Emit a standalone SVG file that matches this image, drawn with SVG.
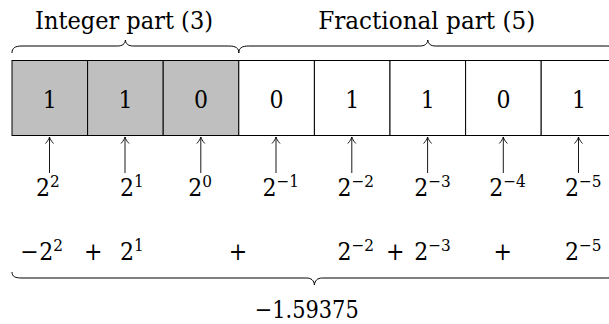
<svg xmlns="http://www.w3.org/2000/svg" width="609" height="324" viewBox="0 0 609 324">
<style>
  text { font-family: "DejaVu Serif", serif; font-stretch: condensed; fill: #000; }
  .big { font-size: 24.5px; }
  .sup { font-size: 17px; }
  .cell { stroke: #000; stroke-width: 1; }
  .int { fill: #bfbfbf; }
  .frac { fill: #fff; }
  .brace { fill: none; stroke: #000; stroke-width: 1; }
  .arr { stroke: #000; stroke-width: 0.9; marker-end: url(#tip); }
</style>
<defs>
  <marker id="tip" markerUnits="userSpaceOnUse" markerWidth="12" markerHeight="12" viewBox="-8 -6 10 12" refX="0" refY="0" orient="auto" overflow="visible">
    <path d="M-6.5,-4 C-4,-1.6 -1.6,-0.5 0,0 C-1.6,0.5 -4,1.6 -6.5,4" fill="none" stroke="#000" stroke-width="0.9"/>
  </marker>
</defs>
<rect width="609" height="324" fill="#fff"/>

<g id="labels-top">
  <text class="big" x="124" y="29" text-anchor="middle" textLength="178" lengthAdjust="spacingAndGlyphs">Integer part (3)</text>
  <text class="big" x="426.7" y="29" text-anchor="middle" textLength="217" lengthAdjust="spacingAndGlyphs">Fractional part (5)</text>
</g>

<g id="braces">
  <path class="brace" d="M12,53 C12,48 15,46 22,46 L117.4,46 C122.4,46 125,44 125.4,40 C125.8,44 128.4,46 133.4,46 L228.8,46 C235.8,46 238.8,48 238.8,53"/>
  <path class="brace" d="M238.8,53 C238.8,48 241.8,46 248.8,46 L419.8,46 C424.8,46 427.4,44 427.8,40 C428.2,44 430.8,46 435.8,46 L606.8,46 C613.8,46 616.8,48 616.8,53"/>
  <path class="brace" d="M12,272 C12,276.5 15,278 22,278 L306.4,278 C311.4,278 314,280.5 314.4,285 C314.8,280.5 317.4,278 322.4,278 L606.8,278 C613.8,278 616.8,276.5 616.8,272"/>
</g>

<g id="cell1"><rect class="cell int" x="12" y="60.5" width="75.6" height="75"/><text class="big" x="49.8" y="108" text-anchor="middle">1</text></g>
<g id="cell2"><rect class="cell int" x="87.6" y="60.5" width="75.6" height="75"/><text class="big" x="125.4" y="108" text-anchor="middle">1</text></g>
<g id="cell3"><rect class="cell int" x="163.2" y="60.5" width="75.6" height="75"/><text class="big" x="201" y="108" text-anchor="middle">0</text></g>
<g id="cell4"><rect class="cell frac" x="238.8" y="60.5" width="75.6" height="75"/><text class="big" x="276.6" y="108" text-anchor="middle">0</text></g>
<g id="cell5"><rect class="cell frac" x="314.4" y="60.5" width="75.6" height="75"/><text class="big" x="352.2" y="108" text-anchor="middle">1</text></g>
<g id="cell6"><rect class="cell frac" x="390" y="60.5" width="75.6" height="75"/><text class="big" x="427.8" y="108" text-anchor="middle">1</text></g>
<g id="cell7"><rect class="cell frac" x="465.6" y="60.5" width="75.6" height="75"/><text class="big" x="503.4" y="108" text-anchor="middle">0</text></g>
<g id="cell8"><rect class="cell frac" x="541.2" y="60.5" width="75.6" height="75"/><text class="big" x="579" y="108" text-anchor="middle">1</text></g>

<g id="connectors">
  <line class="arr" x1="49.5" y1="173" x2="49.5" y2="137"/>
  <line class="arr" x1="125" y1="173" x2="125" y2="137"/>
  <line class="arr" x1="200.8" y1="173" x2="200.8" y2="137"/>
  <line class="arr" x1="276" y1="173" x2="276" y2="137"/>
  <line class="arr" x1="351.8" y1="173" x2="351.8" y2="137"/>
  <line class="arr" x1="427.6" y1="173" x2="427.6" y2="137"/>
  <line class="arr" x1="503.3" y1="173" x2="503.3" y2="137"/>
  <line class="arr" x1="578.5" y1="173" x2="578.5" y2="137"/>
</g>

<g id="weights">
  <text class="big" x="36" y="195.5">2<tspan class="sup" dy="-9">2</tspan></text>
  <text class="big" x="120" y="195.5">2<tspan class="sup" dy="-9">1</tspan></text>
  <text class="big" x="188.3" y="195.5">2<tspan class="sup" dy="-9">0</tspan></text>
  <text class="big" x="262.5" y="195.5">2<tspan class="sup" dy="-9">−1</tspan></text>
  <text class="big" x="337.5" y="195.5">2<tspan class="sup" dy="-9">−2</tspan></text>
  <text class="big" x="414.2" y="195.5">2<tspan class="sup" dy="-9">−3</tspan></text>
  <text class="big" x="489.2" y="195.5">2<tspan class="sup" dy="-9">−4</tspan></text>
  <text class="big" x="565" y="195.5">2<tspan class="sup" dy="-9">−5</tspan></text>
</g>

<g id="sum">
  <text class="big" x="29.5" y="260" text-anchor="middle">−</text>
  <text class="big" x="39.2" y="260">2<tspan class="sup" dy="-9">2</tspan></text>
  <text class="big" x="93.3" y="260" text-anchor="middle">+</text>
  <text class="big" x="120" y="260">2<tspan class="sup" dy="-9">1</tspan></text>
  <text class="big" x="238" y="260" text-anchor="middle">+</text>
  <text class="big" x="337.5" y="260">2<tspan class="sup" dy="-9">−2</tspan></text>
  <text class="big" x="395.3" y="260" text-anchor="middle">+</text>
  <text class="big" x="414.2" y="260">2<tspan class="sup" dy="-9">−3</tspan></text>
  <text class="big" x="502.8" y="260" text-anchor="middle">+</text>
  <text class="big" x="565" y="260">2<tspan class="sup" dy="-9">−5</tspan></text>
</g>

<g id="result">
  <text class="big" x="306.7" y="318" text-anchor="middle" textLength="104" lengthAdjust="spacingAndGlyphs">−1.59375</text>
</g>
</svg>
